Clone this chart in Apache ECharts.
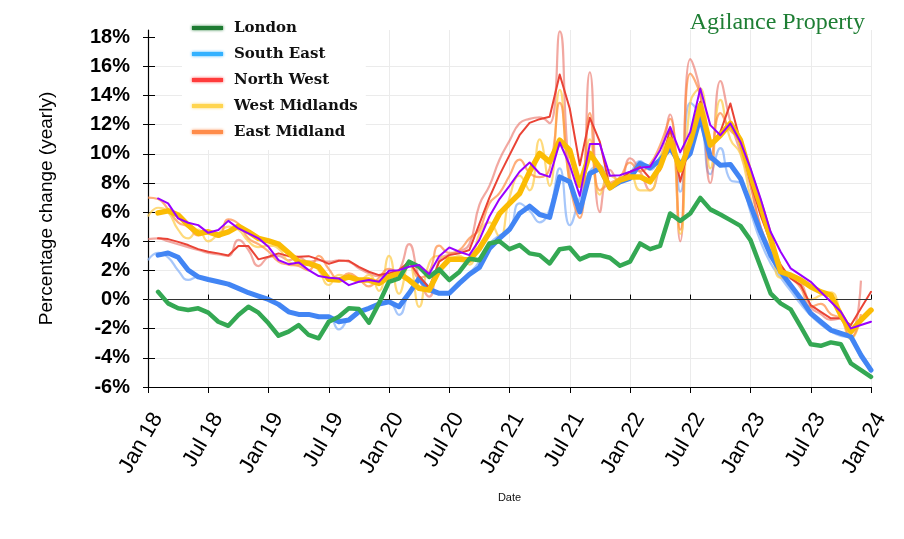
<!DOCTYPE html>
<html>
<head>
<meta charset="utf-8">
<script src="https://cdn.jsdelivr.net/npm/echarts@6/dist/echarts.min.js"></script>
<style>html,body{margin:0;padding:0;background:#fff}#c{width:904px;height:539px}</style>
</head>
<body>
<div id="c"></div>
<script>
// Month categories Jan 18 .. Jan 24
var monthNames = ['Jan','Feb','Mar','Apr','May','Jun','Jul','Aug','Sep','Oct','Nov','Dec'];
var years = [18,19,20,21,22,23];
var categories = [];
years.forEach(function(y){ monthNames.forEach(function(m){ categories.push(m + ' ' + y); }); });
categories.push('Jan 24');

var yTicks = [-6,-4,-2,0,2,4,6,8,10,12,14,16,18];

// Thick / main lines (Feb 18 .. Jan 24)
var london = [0.53,-0.26,-0.6,-0.72,-0.6,-0.9,-1.52,-1.8,-1.06,-0.49,-0.9,-1.63,-2.48,-2.2,-1.75,-2.43,-2.66,-1.52,-1.18,-0.6,-0.65,-1.59,-0.26,1.22,1.45,2.6,2.25,1.56,2.07,1.34,1.9,2.8,2.7,3.85,4.0,3.46,3.74,3.17,3.05,2.48,3.46,3.55,2.76,3.05,3.05,2.87,2.32,2.6,3.85,3.46,3.69,5.91,5.4,5.91,6.98,6.19,5.84,5.45,5.06,4.08,2.25,0.43,-0.26,-0.67,-1.86,-3.07,-3.17,-2.94,-3.07,-4.38,-4.84,-5.3];
var southEast = [3.05,3.2,2.9,2.02,1.56,1.38,1.22,1.06,0.77,0.47,0.24,0.01,-0.33,-0.84,-1.02,-1.02,-1.18,-1.18,-1.52,-1.4,-0.84,-0.6,-0.31,-0.15,-0.49,0.43,1.45,0.7,0.43,0.43,1.11,1.73,2.2,3.5,4.2,4.81,5.91,6.41,5.84,5.64,8.42,8.08,6.02,8.65,9.0,7.67,8.08,8.31,9.34,9.04,9.57,10.4,9.3,10.03,12.54,9.8,9.22,9.27,8.31,6.48,4.65,3.05,1.91,0.99,0.08,-0.95,-1.52,-2.09,-2.32,-2.55,-3.81,-4.84];
var northWest = [4.2,4.15,3.96,3.74,3.46,3.28,3.17,3.03,3.67,3.67,2.76,2.94,3.17,2.98,2.94,2.98,2.76,2.45,2.66,2.66,2.25,1.91,1.68,1.8,2.02,2.6,1.6,0.8,2.6,3.05,3.17,3.4,5.2,7.0,8.54,9.91,11.28,12.13,12.38,12.54,15.45,13.11,9.22,12.47,10.82,7.63,8.2,8.77,9.11,8.31,8.88,11.74,8.08,10.82,13.57,10.6,11.51,13.46,10.82,8.08,5.8,3.96,2.37,1.45,0.99,-0.38,-0.84,-1.29,-1.29,-1.75,-0.6,0.53];
var westMidlands = [5.95,6.09,5.8,5.11,4.54,4.65,4.42,4.65,5.04,4.65,4.2,4.03,3.81,3.21,2.6,2.48,2.25,1.4,1.34,1.56,1.34,1.34,1.11,1.56,1.8,1.34,0.77,0.65,2.02,2.76,2.76,2.71,3.5,4.6,5.9,6.6,7.28,8.77,10.03,9.45,10.94,10.25,7.85,10.03,9.04,7.67,8.2,8.42,8.42,8.08,9.11,11.0,8.9,10.82,13.34,10.6,11.28,12.09,10.94,8.54,6.48,4.2,1.91,1.68,1.34,0.88,0.53,0.31,-1.06,-2.2,-1.4,-0.72];
var eastMidlandAvg = [6.94,6.6,5.57,5.27,5.11,4.58,4.77,5.4,4.88,4.54,4.2,3.62,2.71,2.43,2.55,2.02,1.61,1.5,1.45,0.99,1.22,1.34,1.22,1.98,2.02,2.25,2.37,1.75,2.98,3.58,3.28,3.05,4.1,5.7,6.9,7.8,8.77,9.41,8.65,8.42,10.78,9.22,7.12,10.67,10.67,8.49,8.54,8.77,9.04,9.11,10.25,11.85,10.1,11.51,14.49,11.97,11.28,12.09,10.82,9.0,6.94,4.65,3.28,2.14,1.68,1.22,0.53,-0.15,-0.84,-1.98,-1.75,-1.52];

// Thin smoothed lines (Jan 18 ..)
var southEastRaw = [2.7,3.2,2.9,2.0,1.35,1.55,1.4,1.2,1.05,0.75,0.45,0.3,0.05,-0.35,-0.8,-1.0,-1.05,-1.15,-1.15,-2.05,-1.3,-0.8,-0.6,-0.3,-0.2,-1.05,0.5,1.3,0.6,0.4,0.5,1.2,1.8,2.6,3.8,4.4,4.7,6.6,6.1,5.3,6.2,9.0,5.1,7.0,8.8,9.2,7.9,8.3,8.7,9.5,8.9,9.8,10.5,7.4,13.5,12.5,8.6,10.4,8.2,8.0,6.0,4.0,2.5,1.5,0.6,-0.3,-1.1,-1.7,-2.2,-2.5,-2.6,-4.0,-4.8];
var northWestRaw = [4.15,4.2,4.0,3.8,3.6,3.4,3.2,3.1,3.0,4.1,3.4,2.3,2.9,3.0,2.7,2.9,2.6,2.7,2.6,2.7,2.6,2.15,1.8,1.6,1.65,2.0,3.8,1.5,0.2,2.7,3.1,3.3,3.8,6.5,7.8,9.6,10.9,12.1,12.4,12.5,12.1,18.4,8.5,6.5,15.6,6.0,8.9,8.0,9.7,8.8,7.5,9.4,12.7,4.0,16.5,14.2,8.0,15.0,12.2,10.1,7.8,5.0,3.5,2.4,1.5,1.2,-0.5,-1.0,-1.4,-1.3,-2.2,1.3];
var westMidlandsRaw = [5.7,6.3,6.0,4.8,4.2,4.8,4.0,4.5,5.0,4.8,4.0,3.6,3.7,3.5,2.6,2.4,2.6,2.0,1.0,1.7,1.5,1.3,1.7,0.6,3.0,0.4,2.5,-0.5,2.5,3.0,2.8,3.0,2.4,4.5,5.3,4.3,7.0,8.5,7.5,11.0,7.8,14.4,8.0,6.5,11.0,7.2,8.5,8.2,8.6,7.5,7.5,9.8,11.0,4.5,13.5,14.5,9.0,13.7,11.0,10.0,7.0,4.5,3.5,1.5,1.6,1.0,0.0,0.3,0.5,-1.0,-2.7,-1.2];
var eastMidlandRaw = [7.0,6.9,6.2,5.3,5.0,4.4,4.6,4.3,5.5,5.2,4.2,3.8,3.3,2.6,2.4,2.3,2.0,3.0,2.1,1.4,1.8,1.4,0.9,1.5,2.1,1.8,2.6,1.5,1.9,3.7,3.2,3.4,4.2,4.8,6.6,7.3,8.5,9.6,8.7,8.4,9.0,13.5,8.0,5.6,12.8,7.5,8.0,8.4,9.4,8.8,9.3,10.6,12.4,4.8,15.5,14.0,9.6,12.8,11.6,11.0,8.0,5.0,3.2,2.0,1.5,0.8,-0.5,-0.3,-1.0,-1.3,-2.6,-1.0];

var legendNames = ['London','South East','North West','West Midlands','East Midland'];
var legendColors = ['#1e7b32','#33b1ff','#ff3b3b','#ffd54f','#ff8c4a'];

function fromFeb(arr){ return [null].concat(arr); }

function thin(name, data, color){
  return {name:name, type:'line', data:data, smooth:0.5, symbol:'none', z:2,
    lineStyle:{color:color, width:2.2}, itemStyle:{color:color}, silent:true};
}
function thick(name, data, color, w, z){
  return {name:name, type:'line', data:fromFeb(data), symbol:'none', z:z,
    lineStyle:{color:color, width:w, join:'round', cap:'round'}, itemStyle:{color:color}, silent:true};
}

var series = [
  thin('South East', southEastRaw, 'rgba(138,180,248,0.75)'),
  thin('North West', northWestRaw, 'rgba(234,110,98,0.6)'),
  thin('West Midlands', westMidlandsRaw, 'rgba(253,205,80,0.75)'),
  thin('East Midland', eastMidlandRaw, 'rgba(255,140,66,0.7)'),
  thick('South East', southEast, '#4285f4', 5, 3),
  thick('North West', northWest, '#ea4335', 2, 4),
  thick('West Midlands', westMidlands, '#fbbc04', 5.5, 5),
  thick('London', london, '#34a853', 4.5, 6),
  thick('East Midland avg', eastMidlandAvg, '#9900ff', 2, 7)
];
series[7].markLine = {silent:true, symbol:'none', label:{show:false},
  lineStyle:{color:'#333', width:1, type:'solid'}, data:[{yAxis:0}]};

var chart = echarts.init(document.getElementById('c'), null, {renderer:'canvas'});
chart.setOption({
  animation:false,
  backgroundColor:'#fff',
  title:{text:'Agilance Property', right:34, top:6,
    textStyle:{fontFamily:'Liberation Serif', fontSize:24, fontWeight:'normal', color:'#1e7e34'}},
  legend:{
    orient:'vertical', left:182, top:10, itemGap:10, itemWidth:31, itemHeight:4,
    padding:[10,8,10,10], backgroundColor:'#fff', z:20,
    icon:'rect', selectedMode:false,
    textStyle:{fontFamily:'DejaVu Serif', fontWeight:'bold', fontSize:15, color:'#111', lineHeight:16, padding:[0,0,0,6]},
    data: legendNames.map(function(n,i){ return {name:n, itemStyle:{color:legendColors[i], borderWidth:0, shadowBlur:3, shadowColor:legendColors[i]}}; })
  },
  grid:{left:148, right:33, top:30, bottom:152, containLabel:false},
  xAxis:[{
    type:'category', data:categories, boundaryGap:false,
    name:'Date', nameLocation:'middle', nameGap:105,
    nameTextStyle:{fontFamily:'Liberation Sans', fontSize:11, color:'#111'},
    axisLine:{show:true, onZero:false, lineStyle:{color:'#000', width:1.2}},
    axisTick:{show:true, interval:5, length:6, lineStyle:{color:'#000'}},
    axisLabel:{interval:5, rotate:60, margin:22, verticalAlign:'top', fontFamily:'Liberation Sans', fontSize:22, color:'#000'},
    splitLine:{show:true, interval:5, lineStyle:{color:'#ebebeb', width:1}}
  },{
    type:'category', data:categories, boundaryGap:false, position:'bottom',
    axisLine:{show:false}, axisLabel:{show:false}, splitLine:{show:false},
    axisTick:{show:true, inside:true, interval:5, length:5, lineStyle:{color:'#000'}}
  }],
  yAxis:[{
    type:'value', min:-6, max:18.5, interval:2, position:'left',
    name:'Percentage change (yearly)', nameLocation:'middle', nameGap:92,
    nameTextStyle:{fontFamily:'Liberation Sans', fontSize:19, color:'#000'},
    axisLine:{show:true, lineStyle:{color:'#000', width:1.2}},
    axisTick:{show:true, length:5, customValues:yTicks, lineStyle:{color:'#000'}},
    axisLabel:{customValues:yTicks, margin:18, fontFamily:'Liberation Sans', fontWeight:'bold', fontSize:20, color:'#000',
      formatter:function(v){ return v + '%'; }},
    splitLine:{show:true, showMaxLine:false, lineStyle:{color:'#ebebeb', width:1}}
  },{
    type:'value', min:-6, max:18.5, interval:2, position:'left',
    axisLine:{show:false}, axisLabel:{show:false}, splitLine:{show:false},
    axisTick:{show:true, inside:true, length:7, customValues:yTicks, lineStyle:{color:'#000'}}
  }],
  series: series
});
</script>
</body>
</html>
